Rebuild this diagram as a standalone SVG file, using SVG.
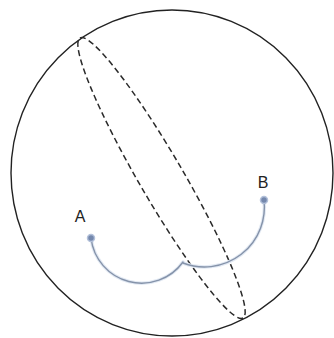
<svg xmlns="http://www.w3.org/2000/svg" width="334" height="338" viewBox="0 0 334 338">
<style>
.sphere{fill:none;stroke:#222;stroke-width:1.4}
.plane{fill:none;stroke:#2a2a2a;stroke-width:1.5;stroke-dasharray:6 3.5}
.glow{fill:none;stroke:#e2e9f3;stroke-width:3.5;stroke-linecap:round}
.path{fill:none;stroke:#8593aa;stroke-width:1.4;stroke-linecap:round}
.pt{fill:#7488ad;stroke:#b3c1da;stroke-width:1.5}
.lbl{font-family:"Liberation Sans",Arial,sans-serif;font-size:16px;fill:#222;text-anchor:middle}
</style>
<rect width="334" height="338" fill="#fff"/>
<g id="sphere"><ellipse class="sphere" cx="172" cy="173" rx="161" ry="163"/></g>
<g id="plane"><ellipse class="plane" cx="161.5" cy="178" rx="162" ry="22" transform="rotate(59.8 161.5 178)"/></g>
<g id="connectors">
<path class="glow" d="M91 238 A51 51 0 0 0 183 262"/>
<path class="glow" d="M183 263 A60 60 0 0 0 264 200"/>
<path class="path" d="M91 238 A51 51 0 0 0 183 262"/>
<path class="path" d="M183 263 A60 60 0 0 0 264 200"/>
</g>
<g id="A"><circle class="pt" cx="91" cy="238" r="3.5"/><text class="lbl" x="80" y="222">A</text></g>
<g id="B"><circle class="pt" cx="264" cy="200" r="3.5"/><text class="lbl" x="263" y="188">B</text></g>
</svg>
